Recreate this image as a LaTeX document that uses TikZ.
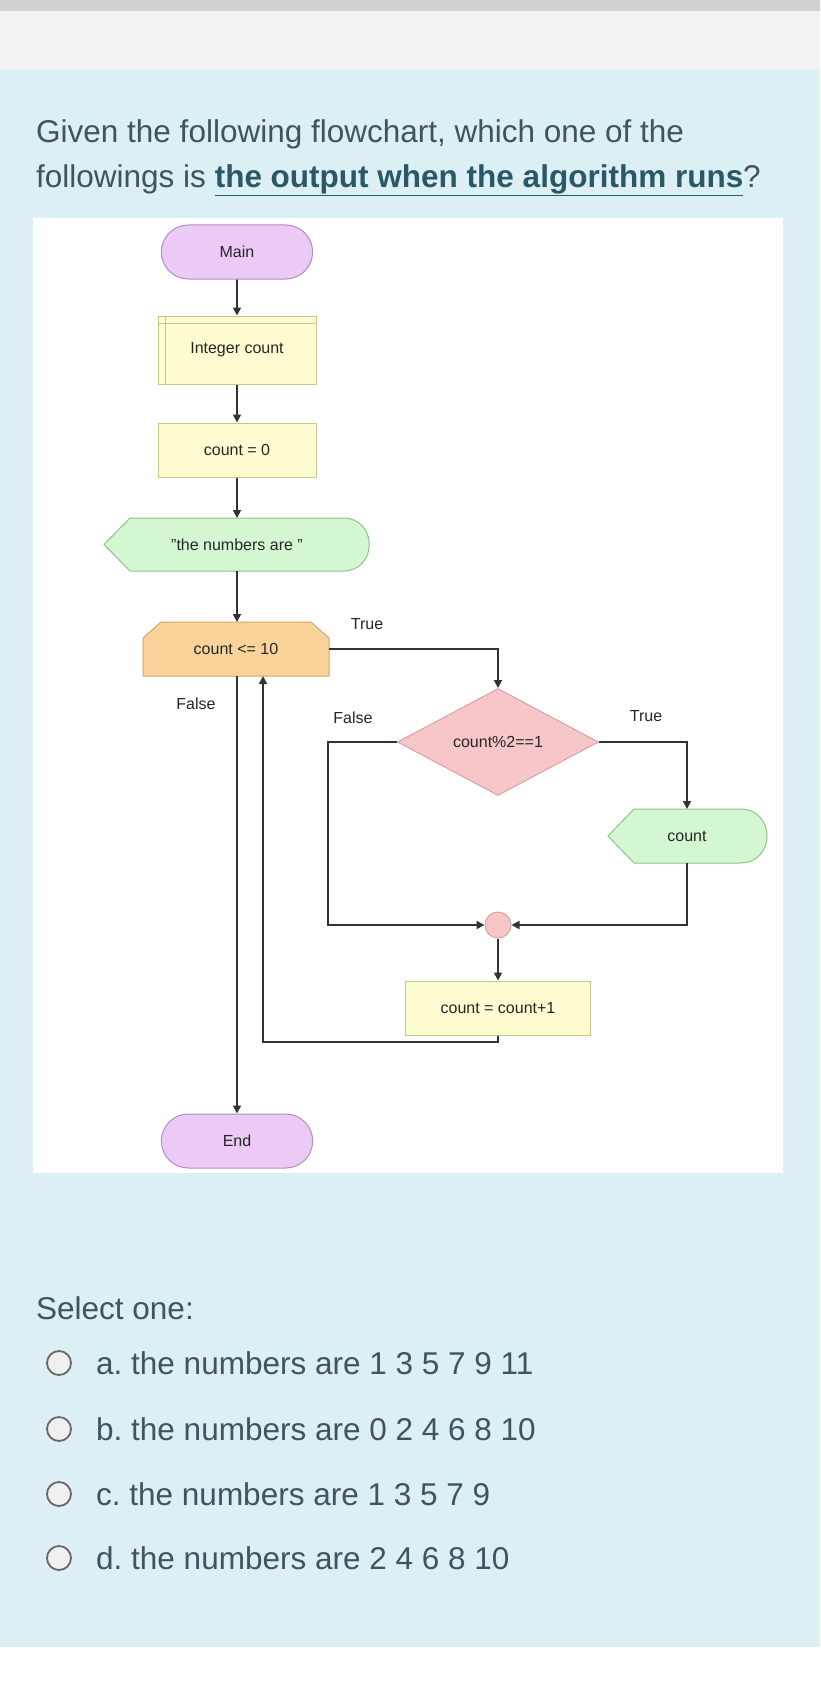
\documentclass[tikz,border=0pt]{standalone}
\usepackage{fontspec}
\setmainfont{Liberation Sans}
\usetikzlibrary{shapes.geometric,shapes.misc,arrows.meta}
\definecolor{bgblue}{HTML}{DCEFF5}
\definecolor{txt}{HTML}{3E5560}
\definecolor{lnk}{HTML}{2B5866}
\definecolor{term}{HTML}{EBCBF5}
\definecolor{termd}{HTML}{B48CC0}
\definecolor{proc}{HTML}{FDFBD0}
\definecolor{procd}{HTML}{C8C690}
\definecolor{outp}{HTML}{D3F7D0}
\definecolor{outpd}{HTML}{8EC48A}
\definecolor{cond}{HTML}{F9D39A}
\definecolor{condd}{HTML}{D0A868}
\definecolor{dia}{HTML}{F6C6C8}
\definecolor{diad}{HTML}{DDA0A4}
\tikzset{
 x=1pt,y=-1pt,
 fc/.style={font=\fontsize{16}{18}\selectfont\color{black!85}},
 lbl/.style={fc,inner sep=0},
 flow/.style={draw=black!80,line width=1.8pt,-{Triangle[length=8pt,width=8pt]}},
 qtext/.style={font=\fontsize{31.5}{34}\selectfont,text=txt,anchor=west,inner sep=0},
 otext/.style={font=\fontsize{31.5}{34}\selectfont,text=txt,anchor=west,inner sep=0},
 radio/.style={circle,draw=black!60,line width=1.8pt,fill=black!6,minimum size=24pt,inner sep=0},
}
\begin{document}
\frenchspacing
\begin{tikzpicture}
\useasboundingbox (0,0) rectangle (820,1688);
\fill[white] (0,0) rectangle (820,1688);
\fill[black!18] (0,0) rectangle (820,11);
\fill[black!5] (0,11) rectangle (820,70);
\fill[bgblue] (0,70) rectangle (820,1647);
\fill[white] (33,218) rectangle (783,1173);

\node[qtext] (q1) at (36,134) {Given the following flowchart, which one of the};
\node[qtext] (q2) at (36,180) {followings is \textcolor{lnk}{\textbf{\underline{the output when the algorithm runs}}}?};

% flowchart nodes
\node[fc,rounded rectangle,draw=termd,fill=term,line width=1pt,minimum width=158pt,minimum height=54pt] (main) at (237,252) {Main};
\node[fc,draw=procd,fill=proc,line width=1pt,minimum width=158pt,minimum height=68pt] (int) at (237,350) {Integer count};
\draw[procd,line width=1pt] (int.north west)++(0,8) -- ++(158,0);
\draw[procd,line width=1pt] (int.north west)++(8,0) -- ++(0,68);
\node[fc,draw=procd,fill=proc,line width=1pt,minimum width=158pt,minimum height=54pt] (c0) at (237,450) {count = 0};
\draw[outpd,fill=outp,line width=1pt] (130,518) -- (343,518) .. controls (378,518) and (378,571) .. (343,571) -- (130,571) -- (104,544.5) -- cycle;
\node[fc] (nums) at (237,544.5) {"the numbers are "};
\coordinate (numsN) at (237,518); \coordinate (numsS) at (237,571);
\draw[condd,fill=cond,line width=1pt] (143,676) -- (143,638) -- (161,622) -- (311,622) -- (329,638) -- (329,676) -- cycle;
\node[fc] (cnd) at (236,649) {count <= 10};
\coordinate (cndN) at (237,622); \coordinate (cndS) at (237,676); \coordinate (cndE) at (329,649);
\node[diamond,draw=diad,fill=dia,line width=1pt,aspect=1.9,minimum width=201pt,minimum height=107pt,inner sep=0] (dm) at (498,742) {};
\node[fc] at (498,742) {count\%2==1};
\draw[outpd,fill=outp,line width=1pt] (634,809) -- (740,809) .. controls (776,809) and (776,863) .. (740,863) -- (634,863) -- (608,836) -- cycle;
\node[fc] (cout) at (687,836) {count};
\coordinate (coutN) at (687,809); \coordinate (coutS) at (687,863);
\node[circle,draw=diad,fill=dia,line width=1pt,minimum size=26pt,inner sep=0] (jn) at (498,925) {};
\node[fc,draw=procd,fill=proc,line width=1pt,minimum width=185pt,minimum height=54pt] (inc) at (498,1008) {count = count+1};
\node[fc,rounded rectangle,draw=termd,fill=term,line width=1pt,minimum width=158pt,minimum height=54pt] (end) at (237,1141) {End};

% connectors
\draw[flow] (main) -- (int);
\draw[flow] (int) -- (c0);
\draw[flow] (c0) -- (numsN);
\draw[flow] (numsS) -- (cndN);
\draw[flow] (cndE) -- (498,649) -- (dm.north);
\draw[flow] (dm.west) -- (328,742) -- (328,925) -- (jn.west);
\draw[flow] (dm.east) -- (687,742) -- (coutN);
\draw[flow] (coutS) -- (687,925) -- (jn.east);
\draw[flow] (jn) -- (inc);
\draw[flow] (inc.south) -- (498,1042) -- (263,1042) -- (263,676);
\draw[flow] (cndS) -- (end.north);
\node[lbl] at (367,624) {True};
\node[lbl] at (196,704) {False};
\node[lbl] at (353,718) {False};
\node[lbl] at (646,716) {True};

% answers
\node[otext] (sel) at (36,1308) {Select one:};
\foreach \y/\t [count=\i] in {1363/a. the numbers are 1 3 5 7 9 11,1429/b. the numbers are 0 2 4 6 8 10,1494/c. the numbers are 1 3 5 7 9,1558/d. the numbers are 2 4 6 8 10}{
 \node[radio] (r\i) at (59,\y) {};
 \node[otext] (o\i) at (96,\y) {\t};
}
\end{tikzpicture}
\end{document}
